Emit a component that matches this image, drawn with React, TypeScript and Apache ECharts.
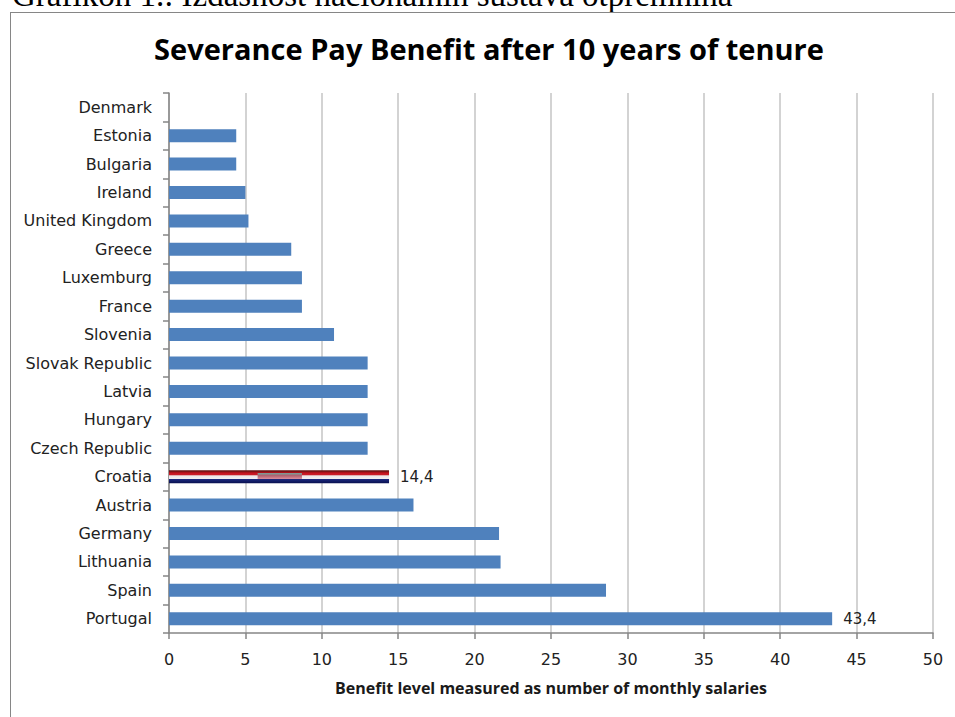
import React, { useEffect, useRef } from "react";
import * as echarts from "echarts";

const countries = ["Portugal","Spain","Lithuania","Germany","Austria","Croatia","Czech Republic","Hungary","Latvia","Slovak Republic","Slovenia","France","Luxemburg","Greece","United Kingdom","Ireland","Bulgaria","Estonia","Denmark"];
const benefit = [43.4,28.6,21.7,21.6,16,14.4,13,13,13,13,10.8,8.7,8.7,8,5.2,5,4.4,4.4,0];
const labelled = ["Portugal","Croatia"];
const flagged = "Croatia";
const coatStart = 5.8;
const coatWidth = 2.9;
const chartTitle = "Severance Pay Benefit after 10 years of tenure";
const valueAxisTitle = "Benefit level measured as number of monthly salaries";
const pageHeading = "Grafikon 1.: Izdašnost nacionalnih sustava otpremnina";

const font = "DejaVu Sans";
const boldFont = "Open Sans";

export default function App() {
  const ref = useRef<HTMLDivElement>(null);
  useEffect(() => {
    const chart = echarts.init(ref.current!, undefined, { renderer: "svg" });
    const flag = new echarts.graphic.LinearGradient(0, 0, 0, 1, [
      { offset: 0, color: "#5e1212" },
      { offset: 0.15, color: "#8a1418" },
      { offset: 0.2, color: "#c8101c" },
      { offset: 0.38, color: "#c8202c" },
      { offset: 0.42, color: "#ece6e6" },
      { offset: 0.64, color: "#f0eef2" },
      { offset: 0.68, color: "#1c2a80" },
      { offset: 1, color: "#0a1050" },
    ]);
    const coat = new echarts.graphic.LinearGradient(0, 0, 0, 1, [
      { offset: 0, color: "rgba(0,0,0,0)" },
      { offset: 0.24, color: "rgba(0,0,0,0)" },
      { offset: 0.25, color: "#7f9a94" },
      { offset: 0.42, color: "#b06070" },
      { offset: 0.66, color: "#d88a98" },
      { offset: 0.67, color: "rgba(0,0,0,0)" },
      { offset: 1, color: "rgba(0,0,0,0)" },
    ]);
    chart.setOption({
      animation: false,
      backgroundColor: "#ffffff",
      title: {
        text: chartTitle,
        left: 484,
        top: 29,
        textAlign: "center",
        textStyle: { fontFamily: boldFont, fontSize: 29, fontWeight: "bold", color: "#000000" },
      },
      grid: { left: 169, right: 22, top: 93, bottom: 84 },
      xAxis: {
        type: "value",
        min: 0,
        max: 50,
        interval: 5,
        name: valueAxisTitle,
        nameLocation: "middle",
        nameGap: 47,
        nameTextStyle: { fontFamily: boldFont, fontSize: 16, fontWeight: "bold", color: "#1a1a1a" },
        axisLine: { show: true, lineStyle: { color: "#868686", width: 1.5 } },
        axisTick: { show: true, length: 6, lineStyle: { color: "#868686", width: 1.5 } },
        axisLabel: { fontFamily: font, fontSize: 16, color: "#222222", margin: 18 },
        splitLine: { show: true, lineStyle: { color: "#c4c4c4", width: 1.5 } },
      },
      yAxis: {
        type: "category",
        data: countries,
        axisLine: { show: true, lineStyle: { color: "#868686", width: 1.5 } },
        axisTick: { show: true, length: 6, lineStyle: { color: "#868686", width: 1.5 } },
        axisLabel: { fontFamily: font, fontSize: 16, color: "#222222", margin: 17 },
      },
      series: [
        {
          type: "bar",
          barWidth: 13,
          barGap: "-100%",
          data: countries.map((c, i) => ({
            value: benefit[i],
            itemStyle: { color: c === flagged ? (flag as any) : "#4f81bd" },
            label: {
              show: labelled.includes(c),
              position: "right",
              distance: 11,
              formatter: String(benefit[i]).replace(".", ","),
              fontFamily: font,
              fontSize: 15,
              color: "#222222",
            },
          })),
        },
        {
          type: "bar",
          stack: "coat",
          barWidth: 13,
          barGap: "-100%",
          silent: true,
          itemStyle: { color: "rgba(0,0,0,0)" },
          data: countries.map((c) => (c === flagged ? coatStart : 0)),
        },
        {
          type: "bar",
          stack: "coat",
          barWidth: 13,
          barGap: "-100%",
          silent: true,
          itemStyle: { color: coat as any },
          data: countries.map((c) => (c === flagged ? coatWidth : 0)),
        },
      ],
      graphic: [
        { type: "line", shape: { x1: 10.5, y1: 12, x2: 10.5, y2: 717 }, style: { stroke: "#868686", lineWidth: 1 }, z: 10 },
        { type: "line", shape: { x1: 10, y1: 12.5, x2: 955, y2: 12.5 }, style: { stroke: "#868686", lineWidth: 1 }, z: 10 },
        {
          type: "text",
          x: 12,
          y: -22,
          style: { text: pageHeading, fontFamily: "Liberation Serif", fontSize: 33, fill: "#000000" },
        },
      ],
    });
    return () => chart.dispose();
  }, []);
  return <div ref={ref} style={{ position: "absolute", left: 0, top: 0, width: 955, height: 717, overflow: "hidden" }} />;
}
